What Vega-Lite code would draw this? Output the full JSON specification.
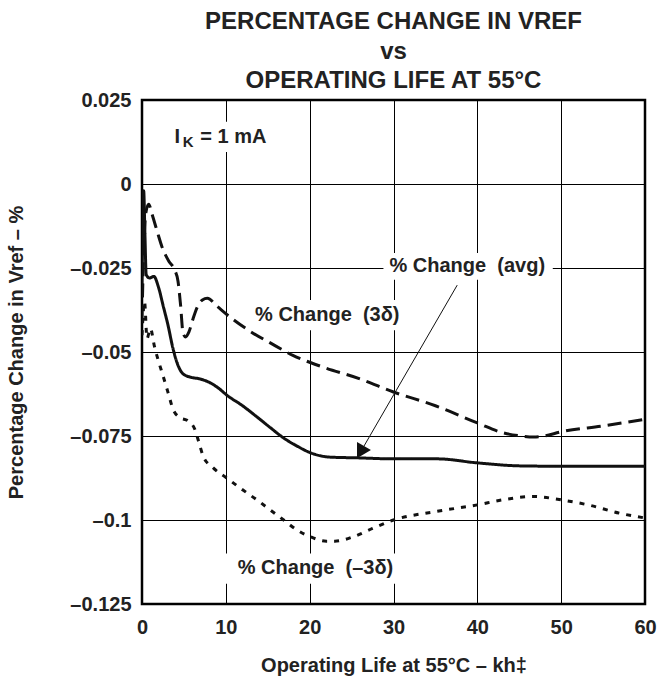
{
  "$schema": "https://vega.github.io/schema/vega-lite/v6.json",
  "width": 503,
  "height": 504,
  "autosize": {"type": "none"},
  "padding": {"left": 142, "top": 100, "right": 13, "bottom": 72},
  "background": "white",
  "config": {
    "font": "Liberation Sans",
    "view": {"stroke": "#000", "strokeWidth": 2.5},
    "axis": {
      "domain": false,
      "ticks": false,
      "grid": true,
      "gridColor": "#000",
      "gridOpacity": 1,
      "gridWidth": 1,
      "labelFlush": false,
      "labelFont": "Liberation Sans",
      "labelFontWeight": "bold",
      "labelColor": "#222",
      "titleFont": "Liberation Sans",
      "titleFontWeight": "bold",
      "titleColor": "#222"
    }
  },
  "title": {
    "text": ["PERCENTAGE CHANGE IN VREF", "vs", "OPERATING LIFE AT 55°C"],
    "fontSize": 24,
    "fontWeight": "bold",
    "font": "Liberation Sans",
    "color": "#222",
    "lineHeight": 29.5,
    "anchor": "middle",
    "baseline": "alphabetic",
    "offset": 13,
    "dy": 35
  },
  "datasets": {
    "lines": [
      {"series": "avg", "x": 0, "y": -0.03},
      {"series": "avg", "x": 0.1, "y": -0.012},
      {"series": "avg", "x": 0.2, "y": -0.002},
      {"series": "avg", "x": 0.35, "y": -0.015},
      {"series": "avg", "x": 0.5, "y": -0.027},
      {"series": "avg", "x": 0.9, "y": -0.028},
      {"series": "avg", "x": 1.4, "y": -0.0275},
      {"series": "avg", "x": 2.0, "y": -0.031},
      {"series": "avg", "x": 2.5, "y": -0.036},
      {"series": "avg", "x": 3.1, "y": -0.042},
      {"series": "avg", "x": 3.7, "y": -0.049},
      {"series": "avg", "x": 4.3, "y": -0.054},
      {"series": "avg", "x": 4.9, "y": -0.0565},
      {"series": "avg", "x": 5.8, "y": -0.0575},
      {"series": "avg", "x": 6.9, "y": -0.058},
      {"series": "avg", "x": 8.0, "y": -0.059},
      {"series": "avg", "x": 9.1, "y": -0.0607},
      {"series": "avg", "x": 10.1, "y": -0.0628},
      {"series": "avg", "x": 12, "y": -0.066},
      {"series": "avg", "x": 13.7, "y": -0.0693},
      {"series": "avg", "x": 15.3, "y": -0.0725},
      {"series": "avg", "x": 16.9, "y": -0.0756},
      {"series": "avg", "x": 18.5, "y": -0.078},
      {"series": "avg", "x": 20.1, "y": -0.08},
      {"series": "avg", "x": 22.5, "y": -0.0813},
      {"series": "avg", "x": 25.7, "y": -0.0815},
      {"series": "avg", "x": 30, "y": -0.0818},
      {"series": "avg", "x": 35.2, "y": -0.0818},
      {"series": "avg", "x": 40, "y": -0.083},
      {"series": "avg", "x": 45.2, "y": -0.0839},
      {"series": "avg", "x": 50, "y": -0.084},
      {"series": "avg", "x": 60, "y": -0.084},
      {"series": "3s", "x": 0, "y": -0.04},
      {"series": "3s", "x": 0.2, "y": -0.02},
      {"series": "3s", "x": 0.5, "y": -0.008},
      {"series": "3s", "x": 0.8, "y": -0.006},
      {"series": "3s", "x": 1.2, "y": -0.009},
      {"series": "3s", "x": 1.8, "y": -0.014},
      {"series": "3s", "x": 2.4, "y": -0.0188},
      {"series": "3s", "x": 3.2, "y": -0.023},
      {"series": "3s", "x": 3.9, "y": -0.0256},
      {"series": "3s", "x": 4.3, "y": -0.029},
      {"series": "3s", "x": 4.6, "y": -0.036},
      {"series": "3s", "x": 4.9, "y": -0.0445},
      {"series": "3s", "x": 5.2, "y": -0.0455},
      {"series": "3s", "x": 5.6, "y": -0.044},
      {"series": "3s", "x": 6.1, "y": -0.04},
      {"series": "3s", "x": 6.6, "y": -0.0366},
      {"series": "3s", "x": 7.2, "y": -0.0345},
      {"series": "3s", "x": 7.8, "y": -0.034},
      {"series": "3s", "x": 9, "y": -0.0365},
      {"series": "3s", "x": 10.5, "y": -0.0396},
      {"series": "3s", "x": 13, "y": -0.044},
      {"series": "3s", "x": 15.3, "y": -0.0473},
      {"series": "3s", "x": 18, "y": -0.051},
      {"series": "3s", "x": 21.6, "y": -0.0545},
      {"series": "3s", "x": 26, "y": -0.058},
      {"series": "3s", "x": 30, "y": -0.0619},
      {"series": "3s", "x": 35, "y": -0.066},
      {"series": "3s", "x": 40, "y": -0.0711},
      {"series": "3s", "x": 43, "y": -0.074},
      {"series": "3s", "x": 45.2, "y": -0.075},
      {"series": "3s", "x": 46.7, "y": -0.0753},
      {"series": "3s", "x": 48, "y": -0.075},
      {"series": "3s", "x": 49.9, "y": -0.0738},
      {"series": "3s", "x": 55, "y": -0.072},
      {"series": "3s", "x": 60, "y": -0.07},
      {"series": "-3s", "x": 0, "y": -0.045},
      {"series": "-3s", "x": 0.3, "y": -0.035},
      {"series": "-3s", "x": 0.6, "y": -0.046},
      {"series": "-3s", "x": 1.0, "y": -0.043},
      {"series": "-3s", "x": 1.5, "y": -0.0485},
      {"series": "-3s", "x": 2.0, "y": -0.053},
      {"series": "-3s", "x": 2.5, "y": -0.057},
      {"series": "-3s", "x": 3.1, "y": -0.062},
      {"series": "-3s", "x": 3.7, "y": -0.067},
      {"series": "-3s", "x": 4.5, "y": -0.0695},
      {"series": "-3s", "x": 5.5, "y": -0.0705},
      {"series": "-3s", "x": 6.3, "y": -0.073},
      {"series": "-3s", "x": 6.8, "y": -0.077},
      {"series": "-3s", "x": 7.3, "y": -0.081},
      {"series": "-3s", "x": 8.5, "y": -0.0845},
      {"series": "-3s", "x": 10.1, "y": -0.0875},
      {"series": "-3s", "x": 12, "y": -0.091},
      {"series": "-3s", "x": 13.7, "y": -0.094},
      {"series": "-3s", "x": 15.3, "y": -0.097},
      {"series": "-3s", "x": 16.9, "y": -0.1},
      {"series": "-3s", "x": 18.5, "y": -0.103},
      {"series": "-3s", "x": 20.1, "y": -0.105},
      {"series": "-3s", "x": 22, "y": -0.1063},
      {"series": "-3s", "x": 23, "y": -0.1063},
      {"series": "-3s", "x": 25.2, "y": -0.105},
      {"series": "-3s", "x": 27.5, "y": -0.1025},
      {"series": "-3s", "x": 30, "y": -0.1},
      {"series": "-3s", "x": 35, "y": -0.0975},
      {"series": "-3s", "x": 40, "y": -0.0955},
      {"series": "-3s", "x": 43, "y": -0.094},
      {"series": "-3s", "x": 46.7, "y": -0.093},
      {"series": "-3s", "x": 50, "y": -0.094},
      {"series": "-3s", "x": 53.2, "y": -0.0955},
      {"series": "-3s", "x": 57, "y": -0.098},
      {"series": "-3s", "x": 60, "y": -0.0994}
    ],
    "masks": [
      {"x": 3.1, "x2": 15.3, "y": 0.0185, "y2": 0.0095},
      {"x": 12.9, "x2": 31.4, "y": -0.0345, "y2": -0.0435},
      {"x": 28.8, "x2": 49.0, "y": -0.0205, "y2": -0.0285},
      {"x": 9.5, "x2": 31.0, "y": -0.110, "y2": -0.119}
    ],
    "labels": [
      {"x": 4.2, "y": 0.014, "text": "I"},
      {"x": 10.9, "y": 0.014, "text": "= 1 mA"},
      {"x": 22.1, "y": -0.039, "text": "% Change \u00a0(3δ)"},
      {"x": 38.8, "y": -0.0245, "text": "% Change \u00a0(avg)"},
      {"x": 20.7, "y": -0.1143, "text": "% Change \u00a0(–3δ)"}
    ],
    "subs": [
      {"x": 5.5, "y": 0.0125, "text": "K"}
    ],
    "arrow": [
      {"x": 37.6, "y": -0.0301, "x2": 26.2, "y2": -0.0792}
    ],
    "head": [
      {"x": 26.2, "y": -0.0792}
    ]
  },
  "layer": [
    {
      "data": {"name": "masks"},
      "mark": {"type": "rect", "color": "white"},
      "encoding": {
        "x": {"field": "x", "type": "quantitative", "scale": {"domain": [0, 60], "nice": false}, "axis": {"values": [0, 10, 20, 30, 40, 50, 60], "labelFontSize": 20, "labelPadding": 13, "title": "Operating Life at 55°C – kh‡", "titleFontSize": 20, "titleBaseline": "alphabetic", "titleY": 67}},
        "x2": {"field": "x2"},
        "y": {"field": "y", "type": "quantitative", "scale": {"domain": [-0.125, 0.025], "nice": false, "zero": false}, "axis": {"values": [-0.125, -0.1, -0.075, -0.05, -0.025, 0, 0.025], "labelFontSize": 20, "labelPadding": 11, "labelExpr": "replace(toString(datum.value), '-', '–')", "title": "Percentage Change in Vref – %", "titleFontSize": 20, "titleX": -126, "titleY": 252, "titleAngle": -90, "titleBaseline": "middle", "titleAlign": "center"}},
        "y2": {"field": "y2"}
      }
    },
    {
      "data": {"name": "lines"},
      "mark": {"type": "line", "color": "#111", "strokeWidth": 3, "interpolate": "monotone", "clip": true},
      "encoding": {
        "x": {"field": "x", "type": "quantitative"},
        "y": {"field": "y", "type": "quantitative"},
        "strokeDash": {"field": "series", "type": "nominal", "scale": {"domain": ["avg", "3s", "-3s"], "range": [[1, 0], [14, 7], [5, 7]]}, "legend": null}
      }
    },
    {
      "data": {"name": "arrow"},
      "mark": {"type": "rule", "color": "#111", "strokeWidth": 1},
      "encoding": {
        "x": {"field": "x", "type": "quantitative"},
        "y": {"field": "y", "type": "quantitative"},
        "x2": {"field": "x2"},
        "y2": {"field": "y2"}
      }
    },
    {
      "data": {"name": "head"},
      "mark": {"type": "point", "shape": "triangle", "filled": true, "color": "#111", "size": 260, "angle": 210, "opacity": 1},
      "encoding": {
        "x": {"field": "x", "type": "quantitative"},
        "y": {"field": "y", "type": "quantitative"}
      }
    },
    {
      "data": {"name": "labels"},
      "mark": {"type": "text", "fontSize": 20, "fontWeight": "bold", "color": "#222", "align": "center", "baseline": "middle"},
      "encoding": {
        "x": {"field": "x", "type": "quantitative"},
        "y": {"field": "y", "type": "quantitative"},
        "text": {"field": "text"}
      }
    },
    {
      "data": {"name": "subs"},
      "mark": {"type": "text", "fontSize": 15, "fontWeight": "bold", "color": "#222", "align": "center", "baseline": "middle"},
      "encoding": {
        "x": {"field": "x", "type": "quantitative"},
        "y": {"field": "y", "type": "quantitative"},
        "text": {"field": "text"}
      }
    }
  ]
}
